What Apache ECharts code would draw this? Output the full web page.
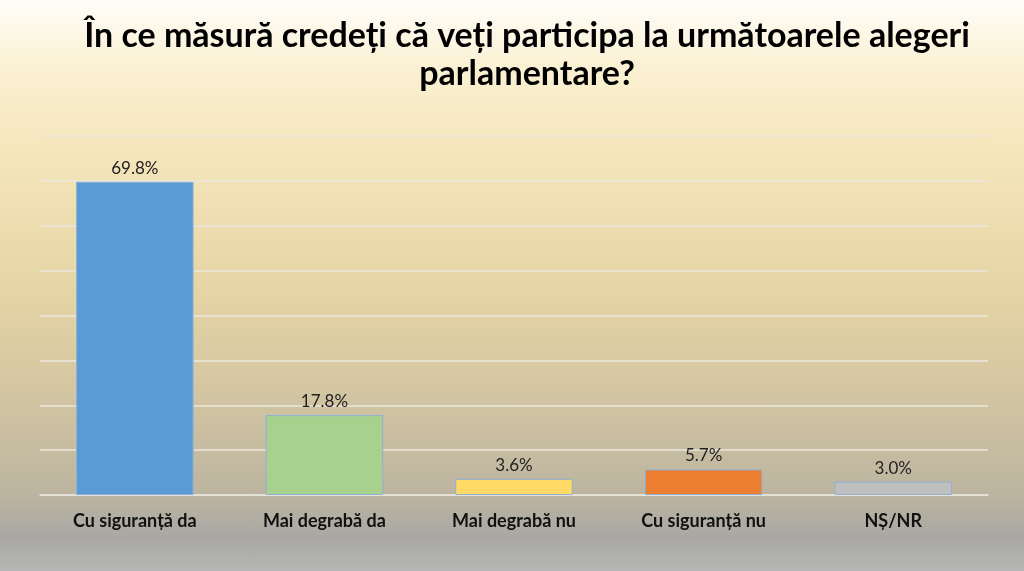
<!DOCTYPE html>
<html><head><meta charset="utf-8">
<script src="https://cdn.jsdelivr.net/npm/echarts@6/dist/echarts.min.js"></script>
<style>
html,body{margin:0;padding:0;width:1024px;height:571px;overflow:hidden;}
#c{width:1024px;height:571px;background:linear-gradient(to bottom,#fefdf9 0%,#faf0d2 12%,#f6e7bd 25%,#e6d5a5 50%,#d4c6a2 68%,#bdb5a0 86%,#a9a8a4 94%,#b6b6b6 100%);}
</style></head>
<body><div id="c"></div>
<script>
const titleText = 'În ce măsură credeți că veți participa la următoarele alegeri\nparlamentare?';
const categories = ['Cu siguranță da','Mai degrabă da','Mai degrabă nu','Cu siguranță nu','NȘ/NR'];
const values = [69.8, 17.8, 3.6, 5.7, 3.0];
const colors = ['#5B9BD5','#A9D18E','#FFD966','#ED7D31','#BFBFBF'];

const chart = echarts.init(document.getElementById('c'));
chart.setOption({
  backgroundColor: 'transparent',
  title: {
    text: titleText,
    left: 522,
    top: 12,
    textAlign: 'center',
    textStyle: {fontFamily: 'Lato', fontWeight: 'bold', fontSize: 34, lineHeight: 38, color: '#000', align: 'center'}
  },
  grid: {left: 40, right: 36, top: 136, bottom: 76},
  xAxis: {
    type: 'category',
    data: categories,
    axisLine: {show: true, lineStyle: {color: '#e9e5dc', width: 1.5}},
    axisTick: {show: false},
    axisLabel: {margin: 17, fontFamily: 'Lato', fontWeight: 'bold', fontSize: 18, color: '#111'}
  },
  yAxis: {
    type: 'value', min: 0, max: 80, interval: 10,
    axisLabel: {show: false},
    axisLine: {show: false}, axisTick: {show: false},
    splitLine: {lineStyle: {color: '#ebe7de', width: 1.5}}
  },
  series: [{
    type: 'bar',
    barWidth: '62%',
    data: values.map((v, i) => ({value: v, itemStyle: {color: colors[i]}})),
    itemStyle: {borderColor: '#8fb0d8', borderWidth: 1},
    label: {show: true, position: 'top', distance: 5, fontFamily: 'Lato', fontSize: 17, color: '#222',
      formatter: p => p.value.toFixed(1) + '%'}
  }]
});
</script></body></html>
